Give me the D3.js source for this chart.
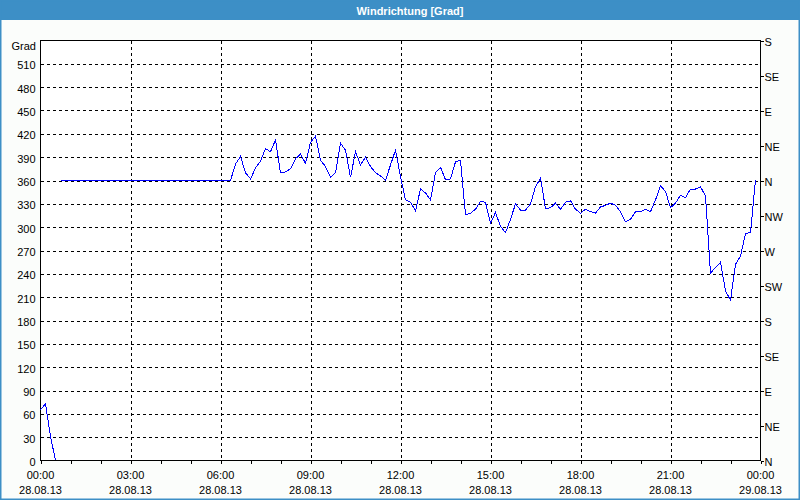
<!DOCTYPE html>
<html>
<head>
<meta charset="utf-8">
<script src="https://cdn.jsdelivr.net/npm/d3@7"></script>
<style>
  html, body { margin: 0; padding: 0; background: #fbfdfb; }
  svg { display: block; }
  text { font-family: "Liberation Sans", Arial, sans-serif; font-size: 11px; fill: #000; }
</style>
</head>
<body>
<svg id="chart" width="800" height="500"></svg>
<script>
// ---- data ----
const chartTitle = "Windrichtung [Grad]";
const yUnit = "Grad";
const startTime = new Date(2013, 7, 28, 0, 0);
const endTime = new Date(2013, 7, 29, 0, 0);
const stepMinutes = 10;
const leftTicks = [0, 30, 60, 90, 120, 150, 180, 210, 240, 270, 300, 330, 360, 390, 420, 450, 480, 510];
const rightTickValues = [0, 45, 90, 135, 180, 225, 270, 315, 360, 405, 450, 495, 540];
const rightTickLabels = ["N", "NE", "E", "SE", "S", "SW", "W", "NW", "N", "NE", "E", "SE", "S"];
const directionValues = [
  65, 73, 31, 0,
  360, 360, 360, 360, 360, 360, 360, 360, 360, 360,
  360, 360, 360, 360, 360, 360, 360, 360, 360, 360,
  360, 360, 360, 360, 360, 360, 360, 360, 360, 360,
  360, 360, 360, 360, 360,
  381, 391, 370, 362, 376, 385, 401, 397, 412, 370,
  371, 375, 388, 394, 382, 409, 417, 386, 378, 364,
  370, 408, 399, 364, 397, 380, 390, 378, 370, 366,
  360, 380, 399, 365, 335, 332, 321, 349, 344, 335,
  370, 377, 361, 362, 384, 386, 316, 318, 323, 333,
  332, 305, 319, 301, 293, 310, 330, 322, 322, 330,
  352, 363, 324, 325, 331, 323, 332, 334, 323, 318,
  323, 320, 318, 326, 328, 331, 328, 320, 307, 310,
  320, 320, 323, 320, 335, 353, 346, 325, 331, 341,
  338, 349, 349, 352, 340, 241, 248, 255, 218, 206,
  252, 263, 292, 293, 361
];

// ---- layout ----
const W = 800, H = 500;
const plot = { left: 40.5, right: 760.5, top: 40.5, bottom: 460.5 };
const barColor = "#3d8fc6";

const svg = d3.select("#chart");

// window frame
svg.append("rect").attr("x", 0).attr("y", 0).attr("width", W).attr("height", H)
  .attr("fill", "#fbfdfb");
svg.append("rect").attr("x", 0).attr("y", 0).attr("width", W).attr("height", 20)
  .attr("fill", barColor);
svg.append("rect").attr("x", 0.5).attr("y", 0.5).attr("width", W - 1).attr("height", H - 1)
  .attr("fill", "none").attr("stroke", barColor).attr("stroke-width", 2);
svg.append("text").attr("x", 410).attr("y", 14.5).attr("text-anchor", "middle")
  .style("font-weight", "bold").style("fill", "#ffffff").text(chartTitle);

// scales
const x = d3.scaleTime().domain([startTime, endTime]).range([plot.left, plot.right]);
const y = d3.scaleLinear().domain([0, 540]).range([plot.bottom, plot.top]);

svg.append("rect").attr("x", plot.left).attr("y", plot.top)
  .attr("width", plot.right - plot.left).attr("height", plot.bottom - plot.top)
  .attr("fill", "#ffffff");

// grid
const gridG = svg.append("g").attr("stroke", "#000").attr("stroke-dasharray", "3,3")
  .attr("stroke-width", 1).attr("shape-rendering", "crispEdges");
leftTicks.filter(v => v > 0).forEach(v => {
  const yy = Math.round(y(v)) + 0.5;
  gridG.append("line").attr("x1", plot.left).attr("x2", plot.right).attr("y1", yy).attr("y2", yy);
});
const majorTimes = d3.timeHour.every(3).range(startTime, d3.timeMinute.offset(endTime, 1));
majorTimes.filter(t => t > startTime && t < endTime).forEach(t => {
  const xx = Math.round(x(t)) + 0.5;
  gridG.append("line").attr("x1", xx).attr("x2", xx).attr("y1", plot.top).attr("y2", plot.bottom);
});

// axes
const leftAxis = d3.axisLeft(y).tickValues(leftTicks).tickSize(0).tickPadding(5);
svg.append("g").attr("transform", `translate(${plot.left},0)`).call(leftAxis)
  .call(g => g.select(".domain").remove())
  .call(g => g.selectAll("text").attr("dy", "0.45em").style("font-family", "Liberation Sans, Arial, sans-serif").style("font-size", "11px"));

const rightAxis = d3.axisRight(y).tickValues(rightTickValues)
  .tickFormat((d, i) => rightTickLabels[i]).tickSize(3).tickPadding(1);
svg.append("g").attr("transform", `translate(${plot.right},0)`).call(rightAxis)
  .call(g => g.select(".domain").remove())
  .call(g => g.selectAll("line").attr("shape-rendering", "crispEdges"))
  .call(g => g.selectAll("text").attr("dy", "0.45em").style("font-family", "Liberation Sans, Arial, sans-serif").style("font-size", "11px"));

const hourTicks = d3.timeHour.every(1).range(startTime, d3.timeMinute.offset(endTime, 1));
const fmtTime = d3.timeFormat("%H:%M"), fmtDate = d3.timeFormat("%d.%m.%y");
const bottomAxis = d3.axisBottom(x).tickValues(hourTicks).tickSize(3).tickFormat("");
const bg = svg.append("g").attr("transform", `translate(0,${plot.bottom})`).call(bottomAxis);
bg.select(".domain").remove();
bg.selectAll("line").attr("shape-rendering", "crispEdges");
majorTimes.forEach(t => {
  bg.append("text").attr("x", x(t)).attr("y", 18).attr("text-anchor", "middle").text(fmtTime(t));
  bg.append("text").attr("x", x(t)).attr("y", 33.5).attr("text-anchor", "middle").text(fmtDate(t));
});

svg.append("text").attr("x", 36).attr("y", 50).attr("text-anchor", "end").text(yUnit);

// plot border
svg.append("rect").attr("x", plot.left).attr("y", plot.top)
  .attr("width", plot.right - plot.left).attr("height", plot.bottom - plot.top)
  .attr("fill", "none").attr("stroke", "#000").attr("stroke-width", 1)
  .attr("shape-rendering", "crispEdges");

// data line, broken where the direction wraps around north
const times = d3.timeMinute.every(stepMinutes).range(startTime, endTime);
const points = directionValues.map((v, i) => ({ t: times[i], v }));
const segments = [];
let cur = [];
points.forEach((p, i) => {
  if (i > 0 && Math.abs(p.v - points[i - 1].v) > 180) { segments.push(cur); cur = []; }
  cur.push(p);
});
segments.push(cur);
const line = d3.line().x(d => x(d.t)).y(d => y(d.v));
svg.append("g").selectAll("path").data(segments).join("path")
  .attr("d", line).attr("fill", "none").attr("stroke", "#0000ff").attr("stroke-width", 1)
  .attr("shape-rendering", "crispEdges");
</script>
</body>
</html>
